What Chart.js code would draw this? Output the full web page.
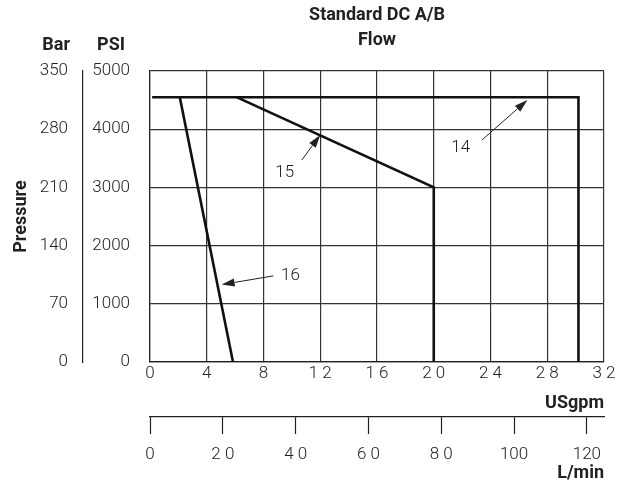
<!DOCTYPE html>
<html>
<head>
<meta charset="utf-8">
<script src="https://cdn.jsdelivr.net/npm/chart.js@4"></script>
<style>
  html, body { margin: 0; padding: 0; background: #fff; }
  #wrap { width: 629px; height: 488px; }
</style>
</head>
<body>
<div id="wrap"><canvas id="myChart"></canvas></div>
<script>
// curves: flow in USgpm, pressure in PSI
var flow14 = [0.15, 30.2, 30.2];
var psi14 = [4550, 4550, 0];
var flow15 = [6.1, 20, 20];
var psi15 = [4550, 3000, 0];
var flow16 = [2.1, 5.85];
var psi16 = [4550, 0];

// tick labels as printed
var gpmTicks = ['0', '4', '8', '1 2', '1 6', '2 0', '2 4', '2 8', '3 2'];
var lpmTicks = ['0', '2 0', '4 0', '6 0', '8 0', '100', '120'];

// callouts: text, where the text sits, arrow tail, arrow tip (USgpm, PSI)
var calloutText = ['14', '15', '16'];
var calloutAt = [[21.9, 3680], [9.5, 3250], [9.9, 1480]];
var arrowFrom = [[23.4, 3815], [10.7, 3470], [8.7, 1480]];
var arrowTo = [[26.6, 4500], [12.0, 3900], [5.05, 1330]];

var FONT = "Roboto, 'Liberation Sans', sans-serif";
var INK = '#222';
var tickFont = { family: FONT, size: 17, weight: 300, lineHeight: 18 / 17 };
var boldFont = { family: FONT, size: 18, weight: 'bold', lineHeight: 1 };

function pts(xs, ys) {
  return xs.map(function (x, i) { return { x: x, y: ys[i] }; });
}

//draws the 14/15/16 labels with their arrows, plus the Bar / PSI headers
var extras = {
  id: 'extras',
  afterDatasetsDraw: function (chart) {
    var ctx = chart.ctx;
    var sx = chart.scales.x, sy = chart.scales.y;
    ctx.save();
    ctx.fillStyle = INK;
    ctx.strokeStyle = INK;
    ctx.lineWidth = 1;
    ctx.font = '300 17px ' + FONT;
    ctx.textAlign = 'center';
    ctx.textBaseline = 'middle';
    calloutText.forEach(function (t, i) {
      ctx.fillText(t, sx.getPixelForValue(calloutAt[i][0]), sy.getPixelForValue(calloutAt[i][1]));
      var x1 = sx.getPixelForValue(arrowFrom[i][0]), y1 = sy.getPixelForValue(arrowFrom[i][1]);
      var x2 = sx.getPixelForValue(arrowTo[i][0]), y2 = sy.getPixelForValue(arrowTo[i][1]);
      var a = Math.atan2(y2 - y1, x2 - x1);
      var len = 13, hw = 4;
      ctx.beginPath();
      ctx.moveTo(x1, y1);
      ctx.lineTo(x2 - Math.cos(a) * len, y2 - Math.sin(a) * len);
      ctx.stroke();
      ctx.beginPath();
      ctx.moveTo(x2, y2);
      ctx.lineTo(x2 - Math.cos(a) * len - Math.sin(a) * hw, y2 - Math.sin(a) * len + Math.cos(a) * hw);
      ctx.lineTo(x2 - Math.cos(a) * len + Math.sin(a) * hw, y2 - Math.sin(a) * len - Math.cos(a) * hw);
      ctx.closePath();
      ctx.fill();
    });
    ctx.font = 'bold 18px ' + FONT;
    ctx.textAlign = 'right';
    ctx.fillText('Bar', chart.scales.y2.right - 13, 45);
    ctx.fillText('PSI', sy.right - 25, 45);
    ctx.restore();
  }
};

var lineStyle = { borderColor: '#111', borderWidth: 2.6, pointRadius: 0, showLine: true, fill: false, tension: 0 };

var ctx = document.getElementById('myChart').getContext('2d');
var myChart = new Chart(ctx, {
  type: 'scatter',
  data: {
    datasets: [
      Object.assign({ label: '14', data: pts(flow14, psi14) }, lineStyle),
      Object.assign({ label: '15', data: pts(flow15, psi15) }, lineStyle),
      Object.assign({ label: '16', data: pts(flow16, psi16) }, lineStyle)
    ]
  },
  plugins: [extras],
  options: {
    responsive: true,
    maintainAspectRatio: false,
    animation: false,
    layout: { padding: { left: 8, right: 25, top: 0, bottom: 6 } },
    plugins: {
      legend: { display: false },
      tooltip: { enabled: false },
      title: {
        display: true,
        fullSize: false,
        text: ['Standard DC A/B', 'Flow'],
        color: INK,
        font: { family: FONT, size: 18, weight: 'bold', lineHeight: 25 / 18 },
        padding: { top: 2.5, bottom: 18.5 }
      }
    },
    scales: {
      x: {
        type: 'linear', position: 'bottom', min: 0, max: 32,
        grid: { color: '#333', lineWidth: 1.2, drawTicks: false },
        border: { color: '#222', width: 1.2 },
        ticks: {
          stepSize: 4, padding: 3, maxRotation: 0, autoSkip: false, color: INK,
          font: tickFont,
          callback: function (v) { return gpmTicks[v / 4]; }
        },
        title: {
          display: true, text: 'USgpm', align: 'end', color: INK,
          font: boldFont,
          padding: { top: 8, bottom: 5 }
        }
      },
      x2: {
        type: 'linear', axis: 'x', position: 'bottom', min: 0, max: 124.7,
        grid: { drawOnChartArea: false, drawTicks: true, tickLength: 17, color: '#222', tickWidth: 1.2 },
        border: { color: '#222', width: 1.2 },
        ticks: {
          stepSize: 20, padding: 12, includeBounds: false, maxRotation: 0, autoSkip: false, color: INK,
          font: tickFont,
          callback: function (v) { return lpmTicks[v / 20]; }
        },
        title: {
          display: true, text: 'L/min', align: 'end', color: INK,
          font: boldFont,
          padding: { top: -12, bottom: 0 }
        }
      },
      y: {
        type: 'linear', position: 'left', min: 0, max: 5000, weight: 0,
        grid: { color: '#333', lineWidth: 1.2, drawTicks: false },
        border: { color: '#222', width: 1.2 },
        ticks: {
          stepSize: 1000, padding: 20, color: INK,
          font: tickFont,
          callback: function (v) { return String(v); }
        },
        afterFit: function (scale) { scale.width = 67; }
      },
      y2: {
        type: 'linear', axis: 'y', position: 'left', min: 0, max: 350, weight: 1,
        grid: { drawOnChartArea: false, drawTicks: false },
        border: { color: '#222', width: 1.2 },
        ticks: {
          stepSize: 70, padding: 15, color: INK,
          font: tickFont,
          callback: function (v) { return String(v); }
        },
        title: {
          display: true, text: 'Pressure', color: INK,
          font: boldFont,
          padding: { top: 4, bottom: 0 }
        },
        afterFit: function (scale) { scale.width = 75; }
      }
    }
  }
});
</script>
</body>
</html>
